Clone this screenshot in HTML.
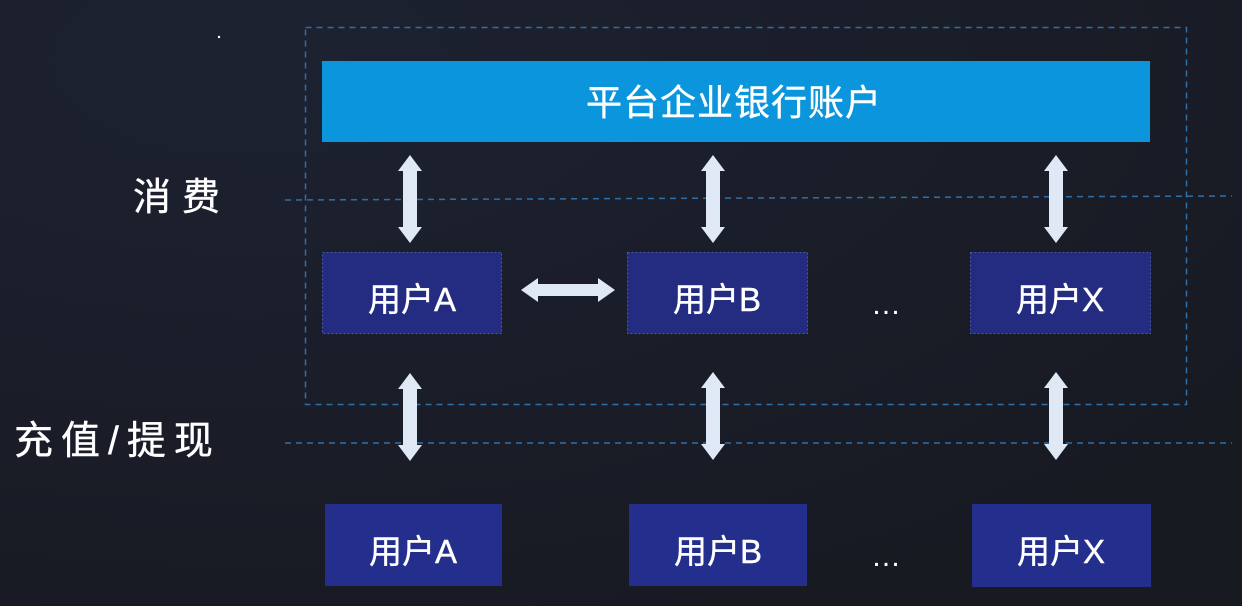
<!DOCTYPE html>
<html><head><meta charset="utf-8"><style>
html,body{margin:0;padding:0;background:#1a1d27;}
svg{display:block;}
text{font-family:"Liberation Sans","Noto Sans CJK SC",sans-serif;fill:#fff;}
</style></head><body>
<svg width="1242" height="606" viewBox="0 0 1242 606" xmlns="http://www.w3.org/2000/svg">
<defs>
<radialGradient id="bg" cx="0.2" cy="0.1" r="1">
<stop offset="0" stop-color="#1d2231"/><stop offset="1" stop-color="#181a22"/>
</radialGradient>
<g id="va"><polygon points="0,-44 12,-28 7,-28 7,28 12,28 0,44 -12,28 -7,28 -7,-28 -12,-28" fill="#dfe8f5"/></g>
</defs>
<rect width="1242" height="606" fill="url(#bg)"/>
<circle cx="219" cy="37" r="1.2" fill="#fff"/>
<rect x="305.5" y="27.5" width="881" height="377" fill="none" stroke="#2f6fa8" stroke-width="1.5" stroke-dasharray="6,5"/>
<line x1="285" y1="200" x2="1232" y2="196" stroke="#2f6fa8" stroke-width="1.5" stroke-dasharray="6,5"/>
<line x1="285" y1="443" x2="1232" y2="443" stroke="#2f6fa8" stroke-width="1.5" stroke-dasharray="6,5"/>
<rect x="322" y="61" width="828" height="81" fill="#0b95dc"/>
<text x="734" y="115" font-size="36" text-anchor="middle" letter-spacing="1" stroke="#fff" stroke-width="0.4">平台企业银行账户</text>
<text x="133" y="210" font-size="38" letter-spacing="11" stroke="#fff" stroke-width="0.4">消费</text>
<text x="14" y="454" font-size="39" letter-spacing="8" stroke="#fff" stroke-width="0.4">充值/提现</text>
<g stroke="#4a56b0" stroke-width="1" stroke-dasharray="2,2">
<rect x="322.5" y="252.5" width="179" height="81" fill="#232c80"/>
<rect x="627.5" y="252.5" width="180" height="81" fill="#232c80"/>
<rect x="970.5" y="252.5" width="180" height="81" fill="#232c80"/>
</g>
<g font-size="33" text-anchor="middle" stroke="#fff" stroke-width="0.4">
<text x="412" y="311">用户A</text>
<text x="717" y="311">用户B</text>
<text x="1060" y="311">用户X</text>
</g>
<rect x="325" y="504" width="177" height="82" fill="#242e8c"/>
<rect x="629" y="504" width="178" height="82" fill="#242e8c"/>
<rect x="972" y="504" width="179" height="83" fill="#242e8c"/>
<g font-size="33" text-anchor="middle" stroke="#fff" stroke-width="0.4">
<text x="413" y="563">用户A</text>
<text x="718" y="563">用户B</text>
<text x="1061" y="563">用户X</text>
</g>
<text x="886" y="314" font-size="30" text-anchor="middle">…</text>
<text x="886" y="566" font-size="30" text-anchor="middle">…</text>
<use href="#va" x="410" y="199"/>
<use href="#va" x="713" y="199"/>
<use href="#va" x="1056" y="199"/>
<use href="#va" x="410" y="417"/>
<use href="#va" x="713" y="416"/>
<use href="#va" x="1056" y="416"/>
<polygon points="521,290 538,278 538,284 598,284 598,278 615,290 598,302 598,296 538,296 538,302" fill="#dfe8f5"/>
</svg>
</body></html>
